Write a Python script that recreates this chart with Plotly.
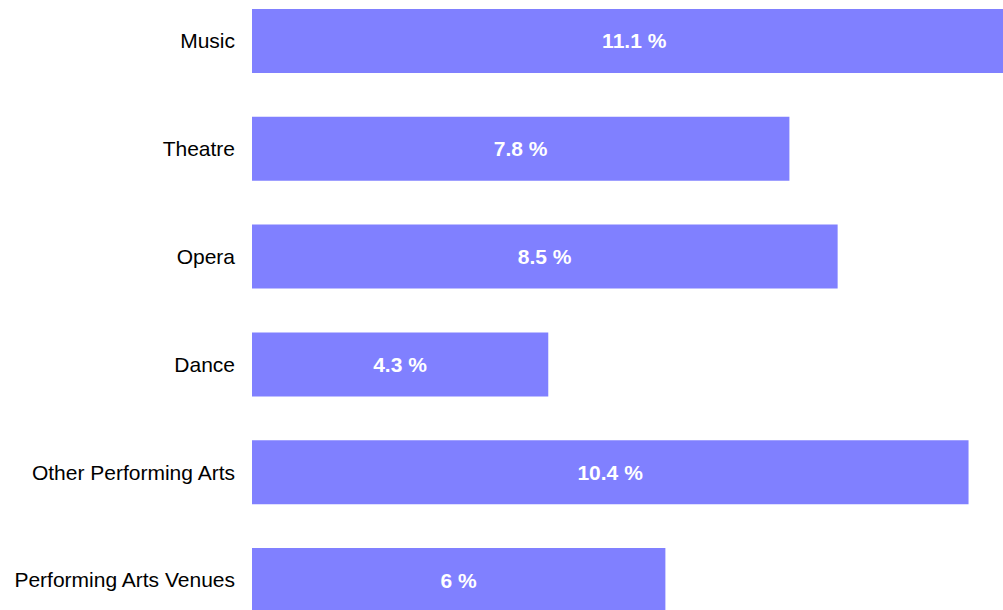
import plotly.graph_objects as go

# Share of employment by performing-arts field (%)
categories = [
    "Music",
    "Theatre",
    "Opera",
    "Dance",
    "Other Performing Arts",
    "Performing Arts Venues",
]
values = [11.1, 7.8, 8.5, 4.3, 10.4, 6]
labels = [f"{v:g} %" for v in values]

BAR_COLOR = "#8080FF"
FONT = "Liberation Sans, Arial, Helvetica, sans-serif"

fig = go.Figure(
    go.Bar(
        x=values,
        y=categories,
        orientation="h",
        marker=dict(color=BAR_COLOR, line=dict(width=0)),
        text=labels,
        textposition="inside",
        insidetextanchor="middle",
        textangle=0,
        textfont=dict(family=FONT, size=21, color="white", weight="bold"),
        cliponaxis=True,
        hoverinfo="skip",
    )
)

fig.update_layout(
    width=1003,
    height=610,
    margin=dict(l=252, r=0, t=0, b=0, pad=0),
    paper_bgcolor="white",
    plot_bgcolor="white",
    bargap=0.406,
    showlegend=False,
    font=dict(family=FONT, size=21, color="#000000"),
    uniformtext=dict(mode=False),
)

fig.update_xaxes(
    range=[0, 10.9],
    visible=False,
    showgrid=False,
    zeroline=False,
)

fig.update_yaxes(
    type="category",
    categoryorder="array",
    categoryarray=categories,
    range=[5.278, -0.380],
    showgrid=False,
    zeroline=False,
    showline=False,
    ticks="",
    ticklabelstandoff=16,
    tickfont=dict(family=FONT, size=21, color="#000000"),
)

fig.write_html("out.html")
